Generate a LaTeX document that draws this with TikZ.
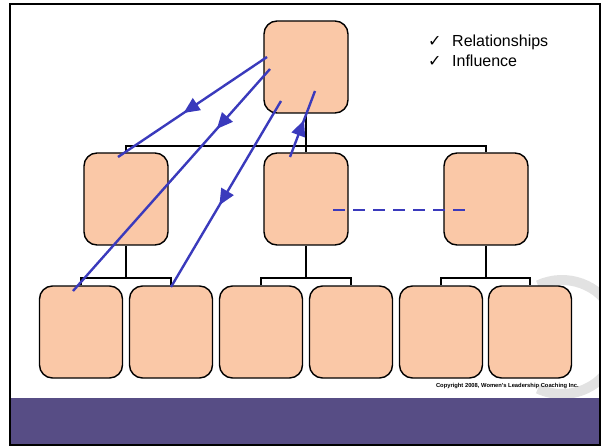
\documentclass[tikz,border=0pt]{standalone}
\usepackage{fontspec}
\setmainfont{Liberation Sans}
\newfontfamily\symfont{DejaVu Sans}
\usetikzlibrary{arrows.meta,decorations.markings}

\definecolor{peach}{RGB}{250,200,167}
\definecolor{flowblue}{RGB}{58,58,188}
\definecolor{band}{RGB}{87,77,133}
\definecolor{swoosh}{RGB}{226,226,226}

\begin{document}
\begin{tikzpicture}[x=1pt,y=-1pt,
  post/.style={draw=black, line width=1.4pt, fill=peach, rounded corners=13pt,
               minimum width=84pt, minimum height=92pt, inner sep=0pt},
  bus/.style={draw=black, line width=1.8pt},
  flow/.style={draw=flowblue, line width=2.4pt},
  midarrow/.style={postaction={decorate},
    decoration={markings, mark=at position #1 with {\arrow[flowblue]{Triangle[length=16pt,width=14pt]}}}},
  ]
\useasboundingbox (0,0) rectangle (602,446);

% faint watermark ring at the right edge
\begin{scope}
  \clip (10,4) rectangle (599,398);
  \draw[swoosh, line width=10pt] (562,337) ++(-115:57) arc[start angle=-115, end angle=115, radius=57];
\end{scope}

% footer band
\fill[band] (10,398) rectangle (600,445);

% organisation chart
\node[post] (top) at (306,67) {};
\node[post] (m1) at (126,199) {};
\node[post] (m2) at (306,199) {};
\node[post] (m3) at (486,199) {};
\foreach \n/\x in {b1/81, b2/171, b3/261, b4/351, b5/441, b6/530}
  \node[post, minimum width=83pt] (\n) at (\x,332) {};

% reporting lines
\draw[bus] (top.south) -- ++(0,32) coordinate (hub);
\draw[bus] (m1.north) |- (hub) -| (m3.north);
\draw[bus] (hub) -- (m2.north);
\draw[bus] (m1.south) -- ++(0,32) coordinate (h1);
\draw[bus] (b1.north) |- (h1) -| (b2.north);
\draw[bus] (m2.south) -- ++(0,32) coordinate (h2);
\draw[bus] (b3.north) |- (h2) -| (b4.north);
\draw[bus] (m3.south) -- ++(0,32) coordinate (h3);
\draw[bus] (b5.north) |- (h3) -| (b6.north);

% influence paths
\coordinate (f1s) at (267,57);   \coordinate (f1e) at (118,157);
\coordinate (f2s) at (270,69);   \coordinate (f2e) at (73,291);
\coordinate (f3s) at (281,101);  \coordinate (f3e) at (171,287);
\coordinate (f4s) at (290,157);  \coordinate (f4e) at (315,91);
\coordinate (d1s) at (333,210);  \coordinate (d1e) at (465,210);
\draw[flow, midarrow=0.56] (f1s) -- (f1e);
\draw[flow, midarrow=0.27] (f2s) -- (f2e);
\draw[flow, midarrow=0.56] (f3s) -- (f3e);
\draw[flow, midarrow=0.56] (f4s) -- (f4e);
\draw[flow, dash pattern=on 12pt off 8pt] (d1s) -- (d1e);

% key
\node[anchor=base west, inner sep=0pt, font=\fontsize{16}{20}\selectfont] (k1) at (428,46.7)
  {\makebox[24pt][l]{\symfont\fontsize{16}{20}\selectfont ✓}Relationships};
\node[anchor=base west, inner sep=0pt, font=\fontsize{16}{20}\selectfont] (k2) at (428,66.7)
  {\makebox[24pt][l]{\symfont\fontsize{16}{20}\selectfont ✓}Influence};

% copyright line
\node[anchor=base east, inner sep=0pt, font=\bfseries\fontsize{5.8}{7}\selectfont] (copy) at (579,387)
  {Copyright 2008, Women's Leadership Coaching Inc.};

% slide frame
\draw[line width=1.8pt] (10,4) rectangle (600,445);
\end{tikzpicture}
\end{document}
